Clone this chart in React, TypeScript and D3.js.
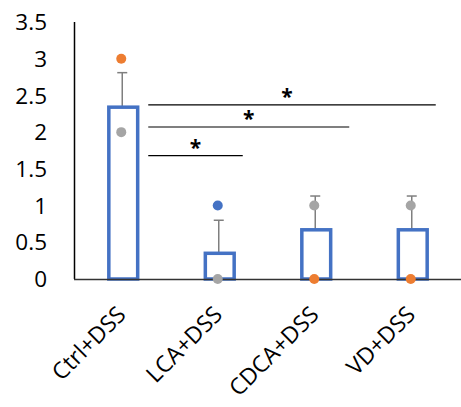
import React from "react";
import * as d3 from "d3";

const categories = ["Ctrl+DSS", "LCA+DSS", "CDCA+DSS", "VD+DSS"];
const means = [2.34, 0.35, 0.67, 0.67];
const errorTops = [2.81, 0.8, 1.13, 1.13];
const orangePoints = [3, null, 0, 0];
const grayPoints = [2, 0, 1, 1];
const bluePoints = [null, 1, null, null];
const yTicks = [0, 0.5, 1, 1.5, 2, 2.5, 3, 3.5];
// significance brackets: from category index, to category index, height in data units
const sigFrom = [0, 0, 0];
const sigTo = [3, 2, 1];
const sigLevel = [2.37, 2.07, 1.68];

const W = 461;
const H = 407;
const FONT = "'Open Sans', 'DejaVu Sans', sans-serif";

export default function App() {
  const x = d3.scaleBand<string>().domain(categories).range([75, 461]).paddingInner(0.67).paddingOuter(0.335);
  const y = d3.scaleLinear().domain([0, 3.5]).range([279, 22]);
  const cx = (i: number) => (x(categories[i]) as number) + x.bandwidth() / 2;
  const bw = x.bandwidth();

  const dots: { i: number; v: number; c: string }[] = [];
  categories.forEach((_, i) => {
    if (orangePoints[i] != null) dots.push({ i, v: orangePoints[i] as number, c: "#ED7D31" });
    if (grayPoints[i] != null) dots.push({ i, v: grayPoints[i] as number, c: "#A5A5A5" });
    if (bluePoints[i] != null) dots.push({ i, v: bluePoints[i] as number, c: "#4472C4" });
  });

  return (
    <svg width={W} height={H} style={{ position: "absolute", left: 0, top: 0, background: "#fff" }}>
      {/* y tick labels */}
      {yTicks.map((t) => (
        <text key={t} x={47} y={y(t)} dy="0.36em" textAnchor="end" fontFamily={FONT} fontSize={22.5} fill="#000">
          {d3.format("")(t)}
        </text>
      ))}
      {/* error bars */}
      {categories.map((c, i) => (
        <g key={"e" + c} stroke="#7F7F7F" strokeWidth={1.5}>
          <line x1={cx(i) - 1} x2={cx(i) - 1} y1={y(means[i])} y2={y(errorTops[i])} />
          <line x1={cx(i) - 6} x2={cx(i) + 4} y1={y(errorTops[i])} y2={y(errorTops[i])} />
        </g>
      ))}
      {/* bars */}
      {categories.map((c, i) => (
        <rect
          key={c}
          x={(x(c) as number) + 1.5}
          y={y(means[i])}
          width={bw - 3}
          height={y(0) - y(means[i])}
          fill="none"
          stroke="#4472C4"
          strokeWidth={3.5}
        />
      ))}
      {/* axes */}
      <line x1={74.5} x2={74.5} y1={22} y2={279} stroke="#000" strokeWidth={1.5} />
      <line x1={74} x2={461} y1={279.5} y2={279.5} stroke="#333" strokeWidth={1.5} />
      {/* individual points */}
      {dots.map((d, k) => (
        <circle key={k} cx={cx(d.i) - 2} cy={y(d.v)} r={5} fill={d.c} />
      ))}
      {/* significance brackets */}
      {sigLevel.map((lv, k) => {
        const x1 = cx(sigFrom[k]) + 25;
        const x2 = cx(sigTo[k]) + 23 + (sigTo[k] === 2 ? 10 : 0);
        const mid = (x1 + x2) / 2 - (sigTo[k] === 3 ? 5 : 0);
        return (
          <g key={"s" + k}>
            <line x1={x1} x2={x2} y1={y(lv)} y2={y(lv)} stroke="#000" strokeWidth={1.2} />
            <text x={mid} y={y(lv) - 1} textAnchor="middle" fontFamily={FONT} fontSize={21} fontWeight="bold" fill="#000">
              *
            </text>
          </g>
        );
      })}
      {/* category labels */}
      {categories.map((c, i) => (
        <text
          key={"l" + c}
          transform={`translate(${cx(i) + 4},${316}) rotate(-45)`}
          textAnchor="end"
          fontFamily={FONT}
          fontSize={23}
          fill="#000"
        >
          {c}
        </text>
      ))}
    </svg>
  );
}
